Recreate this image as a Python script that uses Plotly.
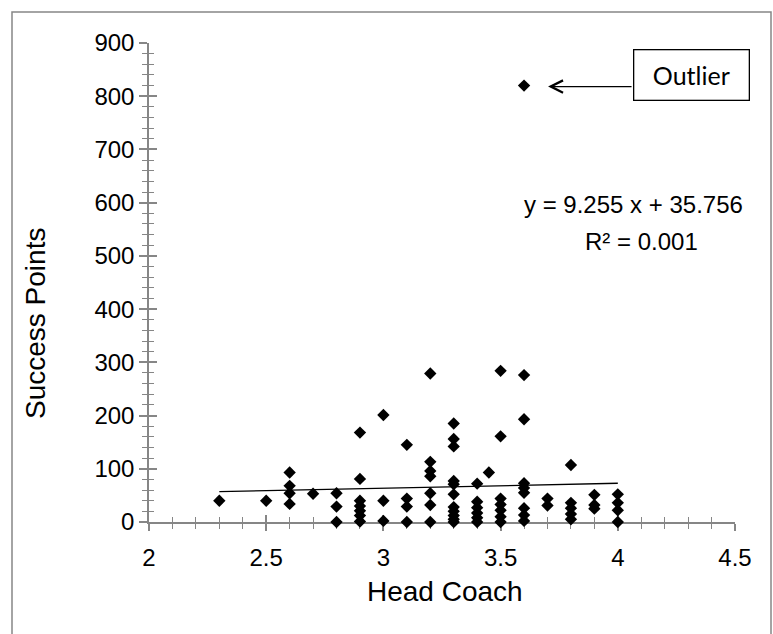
import plotly.graph_objects as go

# ---- data ----
head_coach = [
    2.3,
    2.5,
    2.6, 2.6, 2.6, 2.6,
    2.7,
    2.8, 2.8, 2.8,
    2.9, 2.9, 2.9, 2.9, 2.9, 2.9, 2.9,
    3.0, 3.0, 3.0,
    3.1, 3.1, 3.1, 3.1,
    3.2, 3.2, 3.2, 3.2, 3.2, 3.2, 3.2,
    3.3, 3.3, 3.3, 3.3, 3.3, 3.3, 3.3, 3.3, 3.3, 3.3, 3.3,
    3.4, 3.4, 3.4, 3.4, 3.4, 3.4,
    3.45,
    3.5, 3.5, 3.5, 3.5, 3.5, 3.5, 3.5,
    3.6, 3.6, 3.6, 3.6, 3.6, 3.6, 3.6, 3.6, 3.6,
    3.7, 3.7,
    3.8, 3.8, 3.8, 3.8, 3.8,
    3.9, 3.9, 3.9,
    4.0, 4.0, 4.0, 4.0,
]
success_points = [
    40,
    40,
    93, 68, 54, 34,
    53,
    54, 29, 0,
    168, 81, 40, 30, 21, 12, 1,
    201, 40, 2,
    145, 44, 29, 0,
    279, 113, 96, 86, 54, 32, 0,
    185, 156, 142, 77, 71, 52, 28, 20, 12, 5, 0,
    72, 38, 27, 17, 8, 0,
    93,
    284, 161, 44, 33, 22, 10, 0,
    820, 276, 193, 73, 64, 55, 26, 13, 2,
    44, 31,
    107, 36, 26, 15, 5,
    51, 32, 25,
    52, 36, 22, 0,
]
slope = 9.255
intercept = 35.756
r_squared = 0.001
x_ticks = [2, 2.5, 3, 3.5, 4, 4.5]
y_ticks = [0, 100, 200, 300, 400, 500, 600, 700, 800, 900]
outlier_x = 3.6
outlier_y = 820

# ---- layout geometry ----
W, H = 773, 634
ML, MR, MT, MB = 149, 38, 43, 112
PW, PH = W - ML - MR, H - MT - MB
GRAY = "#868686"
FONT = "Liberation Sans, Arial, sans-serif"


def px_x(p):
    return (p - ML) / PW


def px_y(p):
    return (H - MB - p) / PH


x_min = min(head_coach)
x_max = max(head_coach)
trend_x = [x_min, x_max]
trend_y = [slope * v + intercept for v in trend_x]

fig = go.Figure()
# invisible trace on the main axes (outside tick halves, labels)
fig.add_trace(go.Scatter(x=[None], y=[None], showlegend=False, hoverinfo="skip"))
# data drawn on the overlay axes so it lies above all axis lines/ticks
fig.add_trace(go.Scatter(
    x=trend_x, y=trend_y, mode="lines", xaxis="x2", yaxis="y2",
    line=dict(color="black", width=1.3),
    hoverinfo="skip", showlegend=False,
))
fig.add_trace(go.Scatter(
    x=head_coach, y=success_points, mode="markers", xaxis="x2", yaxis="y2",
    marker=dict(symbol="diamond", size=9.5, color="black"),
    cliponaxis=False, showlegend=False,
))

axis_common = dict(showgrid=False, zeroline=False, tickcolor=GRAY, tickwidth=1.5,
                   layer="below traces")

fig.update_layout(
    width=W, height=H, autosize=False,
    margin=dict(l=ML, r=MR, t=MT, b=MB, pad=0),
    paper_bgcolor="white", plot_bgcolor="white",
    font=dict(family=FONT, size=24, color="black"),
    xaxis=dict(
        range=[2, 4.5], tickvals=x_ticks, ticktext=[f"{v:g}" for v in x_ticks],
        showline=True, linecolor=GRAY, linewidth=1.5,
        ticks="outside", ticklen=7,
        minor=dict(dtick=0.1, ticks="outside", ticklen=5, tickcolor=GRAY, tickwidth=1.2),
        tickfont=dict(size=24), ticklabelstandoff=6,
        **axis_common,
    ),
    yaxis=dict(
        range=[0, 900], tickvals=y_ticks, ticktext=[str(v) for v in y_ticks],
        showline=True, linecolor=GRAY, linewidth=1.5,
        ticks="outside", ticklen=8,
        minor=dict(dtick=20, ticks="outside", ticklen=5, tickcolor=GRAY, tickwidth=1.2),
        tickfont=dict(size=24),
        **axis_common,
    ),
    xaxis2=dict(
        range=[2, 4.5], overlaying="x", anchor="y2", side="bottom",
        tickvals=x_ticks, showticklabels=False, showline=False,
        ticks="inside", ticklen=7,
        minor=dict(dtick=0.1, ticks="inside", ticklen=5, tickcolor=GRAY, tickwidth=1.2),
        **axis_common,
    ),
    yaxis2=dict(
        range=[0, 900], overlaying="y", anchor="x2", side="left",
        tickvals=y_ticks, showticklabels=False, showline=False,
        ticks="inside", ticklen=8,
        minor=dict(dtick=20, ticks="inside", ticklen=5, tickcolor=GRAY, tickwidth=1.2),
        **axis_common,
    ),
    shapes=[
        dict(type="rect", xref="paper", yref="paper",
             x0=px_x(12), x1=px_x(771), y0=px_y(12), y1=px_y(660),
             line=dict(color=GRAY, width=1.5), fillcolor="rgba(0,0,0,0)", layer="below"),
    ],
    annotations=[
        dict(text="Success Points", xref="paper", yref="paper",
             x=px_x(35), y=px_y(324), textangle=-90, showarrow=False,
             xanchor="center", yanchor="middle", font=dict(size=28)),
        dict(text="Head Coach", xref="paper", yref="paper",
             x=px_x(445), y=px_y(591), showarrow=False,
             xanchor="center", yanchor="middle", font=dict(size=28)),
        dict(text=f"y = {slope} x + {intercept}", xref="paper", yref="paper",
             x=px_x(633), y=px_y(205), showarrow=False,
             xanchor="center", yanchor="middle", font=dict(size=24)),
        dict(text=f"R² = {r_squared}", xref="paper", yref="paper",
             x=px_x(641), y=px_y(241), showarrow=False,
             xanchor="center", yanchor="middle", font=dict(size=24)),
        # arrow pointing to the outlier
        dict(text="", x=outlier_x, y=outlier_y, xref="x", yref="y",
             xshift=24, yshift=-1, showarrow=True, arrowhead=5, arrowsize=2.2,
             arrowwidth=1.1, arrowcolor="black", ax=85, ay=0, standoff=0),
        dict(text="Outlier", xref="paper", yref="paper",
             x=px_x(691), y=px_y(75), showarrow=False,
             xanchor="center", yanchor="middle",
             width=114, height=49, borderpad=0, borderwidth=1.3, bordercolor="black",
             bgcolor="white",
             font=dict(family="Lato, Open Sans, sans-serif", size=25)),
    ],
)

fig.write_html("out.html")
